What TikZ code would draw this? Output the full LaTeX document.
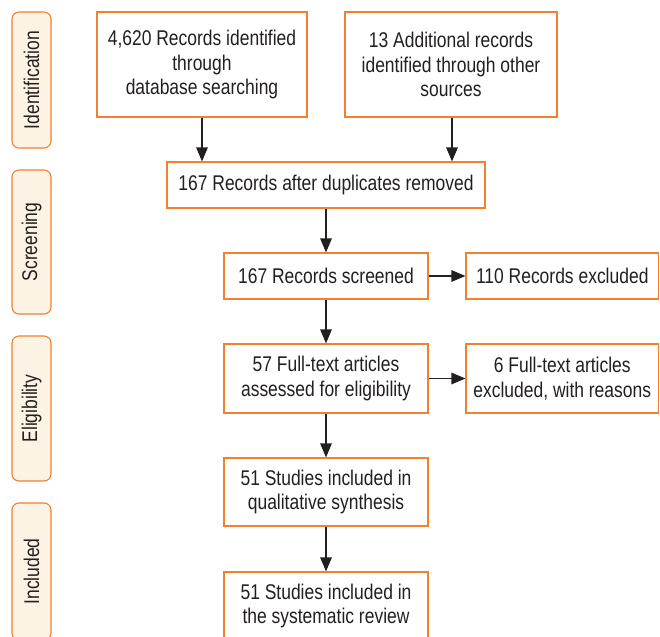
\documentclass[tikz,border=0pt]{standalone}
\usepackage{fontspec}
\setmainfont{Liberation Sans}[FakeStretch=0.82]
\usetikzlibrary{arrows.meta}
\definecolor{borange}{RGB}{242,128,48}
\definecolor{cream}{RGB}{253,243,228}
\definecolor{txt}{RGB}{35,31,32}
\begin{document}
\begin{tikzpicture}[x=1pt,y=-1pt,
  box/.style={draw=borange, line width=1.1pt, fill=white, text=txt, align=center,
    inner sep=0pt, font=\fontsize{21.3}{24.5}\selectfont},
  phase/.style={draw=borange, line width=1.1pt, fill=cream, rounded corners=7pt,
    text=txt, inner sep=0pt, rotate=90, font=\fontsize{21.3}{24.5}\selectfont},
  arr/.style={-{Triangle[length=14pt,width=11.5pt]}, line width=1.2pt, draw=txt}]
\clip (0,0) rectangle (660,636);
\fill[white] (0,0) rectangle (660,636);
% phase labels
\node[phase, minimum width=136pt, minimum height=39pt] (pid) at (31.5,80) {Identification};
\node[phase, minimum width=144pt, minimum height=39pt] (psc) at (31.5,242) {Screening};
\node[phase, minimum width=145pt, minimum height=39pt] (pel) at (31.5,408.5) {Eligibility};
\node[phase, minimum width=137pt, minimum height=39pt] (pin) at (31.5,571.5) {Included};
% boxes
\node[box, minimum width=210pt, minimum height=105pt] (b1) at (202,64.5)
  {4,620 Records identified\\through\\database searching};
\node[box, minimum width=212pt, minimum height=105pt] (b2) at (451,64.5)
  {13 Additional records\\identified through other\\sources};
\node[box, minimum width=318pt, minimum height=46pt] (b3) at (326,185)
  {167 Records after duplicates removed};
\node[box, minimum width=204pt, minimum height=46pt] (b4) at (326,276)
  {167 Records screened};
\node[box, minimum width=192.5pt, minimum height=46pt] (b5) at (562.25,276)
  {110 Records excluded};
\node[box, minimum width=204pt, minimum height=69pt] (b6) at (326,378.5)
  {57 Full-text articles\\assessed for eligibility};
\node[box, minimum width=192.5pt, minimum height=69pt] (b7) at (562.25,378.5)
  {6 Full-text articles\\excluded, with reasons};
\node[box, minimum width=204pt, minimum height=68pt] (b8) at (326,492)
  {51 Studies included in\\qualitative synthesis};
\node[box, minimum width=204pt, minimum height=68pt] (b9) at (326,606)
  {51 Studies included in\\the systematic review};
% arrows
\draw[arr] (b1.south) -- (b1.south |- b3.north);
\draw[arr] ([xshift=1pt]b2.south) -- ([xshift=1pt]b2.south |- b3.north);
\draw[arr] (b3.south) -- (b4.north);
\draw[arr] (b4.east) -- (b5.west);
\draw[arr] (b4.south) -- (b6.north);
\draw[arr] (b6.east) -- (b7.west);
\draw[arr] (b6.south) -- (b8.north);
\draw[arr] (b8.south) -- (b9.north);
\end{tikzpicture}
\end{document}
